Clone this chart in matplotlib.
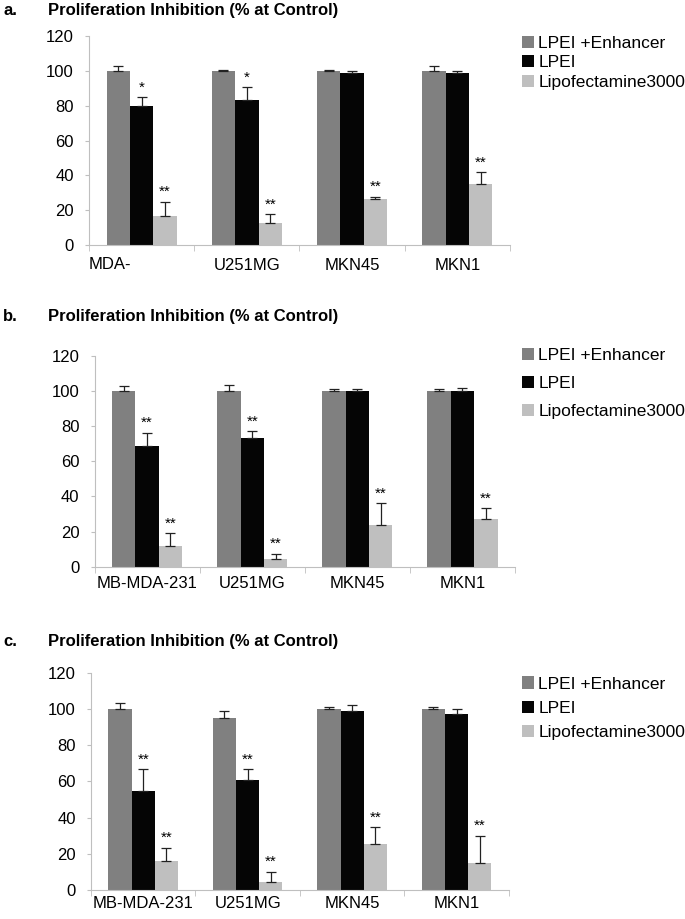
import numpy as np
import matplotlib
matplotlib.use("Agg")
import matplotlib.pyplot as plt

plt.rcParams['font.family'] = ['Liberation Sans', 'DejaVu Sans']

series = ['LPEI +Enhancer', 'LPEI', 'Lipofectamine3000']
colors = ['#808080', '#050505', '#bfbfbf']

cats_a = ['', 'U251MG', 'MKN45', 'MKN1']
cats_bc = ['MB-MDA-231', 'U251MG', 'MKN45', 'MKN1']

# panel a
a_vals = [[100, 100, 100, 100], [79.6, 83.4, 98.6, 98.9], [16.6, 12.4, 26.2, 34.8]]
a_err = [[2.8, 0.7, 0.3, 2.8], [5.2, 7.1, 1.5, 1.1], [8.3, 5.2, 1.5, 6.9]]
a_star = [['', '', '', ''], ['*', '*', '', ''], ['**', '**', '**', '**']]

# panel b
b_vals = [[100, 100, 100, 100], [68.9, 73.1, 100, 100], [11.6, 4.2, 23.7, 27.3]]
b_err = [[2.9, 3.5, 1.0, 1.2], [7.5, 4.0, 1.0, 1.5], [7.4, 3.2, 12.4, 6.0]]
b_star = [['', '', '', ''], ['**', '**', '', ''], ['**', '**', '**', '**']]

# panel c
c_vals = [[100, 95.1, 100, 100], [54.7, 60.6, 99.0, 97.0], [16.2, 4.4, 25.6, 14.9]]
c_err = [[3.4, 3.5, 1.2, 1.0], [11.9, 6.0, 3.0, 2.9], [7.2, 5.7, 9.0, 15.0]]
c_star = [['', '', '', ''], ['**', '**', '', ''], ['**', '**', '**', '**']]

fig = plt.figure(figsize=(6.85, 9.19), dpi=100)

# letter, axes rect, cats, values, errors, stars, title y, legend anchor, label spacing, xlabel pad
panels = [
    ('a.', [0.1299, 0.7334, 0.6146, 0.2274], cats_a, a_vals, a_err, a_star, 0.9885, (0.762, 0.961), 0.25, 9),
    ('b.', [0.1380, 0.3834, 0.6139, 0.2292], cats_bc, b_vals, b_err, b_star, 0.6555, (0.762, 0.621), 0.72, 7),
    ('c.', [0.1328, 0.0316, 0.6100, 0.2365], cats_bc, c_vals, c_err, c_star, 0.3015, (0.762, 0.264), 0.52, 4),
]

w = 1 / 4.5
gray = '#bfbfbf'
for letter, pos, cats, vals, errs, stars, ty, lpos, lsp, xpad in panels:
    ax = fig.add_axes(pos)
    x = np.arange(len(cats))
    for i in range(3):
        xs = x + (i - 1) * w
        ax.bar(xs, vals[i], w, color=colors[i], label=series[i], zorder=2)
        ax.errorbar(xs, vals[i], yerr=[np.zeros(len(cats)), errs[i]], fmt='none',
                    ecolor='#222222', elinewidth=0.9, capsize=3.5, capthick=0.9, zorder=3)
        for j in range(len(cats)):
            if stars[i][j]:
                ax.text(xs[j], vals[i][j] + errs[i][j] + 1.5, stars[i][j], ha='center',
                        va='bottom', fontsize=11)
    ax.set_xlim(-0.5, len(cats) - 0.5)
    ax.set_ylim(0, 120)
    ax.set_yticks(range(0, 121, 20))
    ax.set_xticks(x)
    ax.set_xticklabels(cats, fontsize=12)
    ax.set_xticks(np.arange(-0.5, len(cats), 1), minor=True)
    ax.tick_params(axis='x', which='major', length=0, pad=xpad)
    ax.tick_params(axis='x', which='minor', length=4, color=gray, direction='out')
    ax.tick_params(axis='y', labelsize=12, length=3, color=gray, pad=8)
    for s in ['top', 'right']:
        ax.spines[s].set_visible(False)
    for s in ['left', 'bottom']:
        ax.spines[s].set_color(gray)
    if letter == 'a.':
        ax.text(0.0, -0.056, 'MDA-', transform=ax.transAxes, ha='left', va='top', fontsize=12)
    fig.text(0.005, ty, letter, fontsize=12, fontweight='bold', va='center')
    fig.text(0.07, ty, 'Proliferation Inhibition (% at Control)', fontsize=12,
             fontweight='bold', va='center')
    ax.legend(loc='upper left', bbox_to_anchor=lpos, bbox_transform=fig.transFigure,
              frameon=False, fontsize=12.5, handlelength=0.7, handleheight=0.7,
              handletextpad=0.25, labelspacing=lsp, borderaxespad=0, borderpad=0)

fig.savefig('out.png', dpi=100)
